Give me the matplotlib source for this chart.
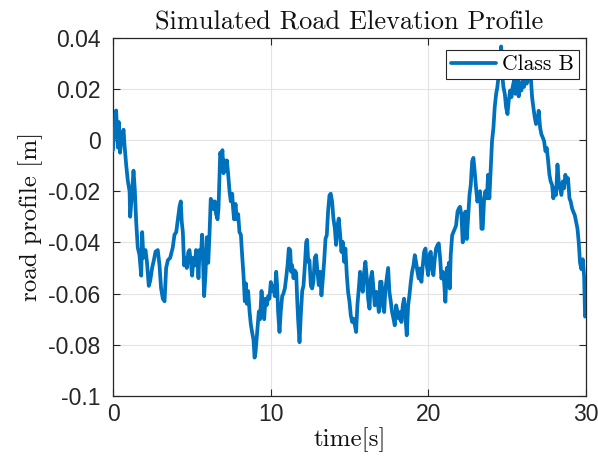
import matplotlib
matplotlib.use('Agg')
import matplotlib.pyplot as plt

# ---- data ----
time_s = [
    0.00, 0.05, 0.10, 0.16, 0.20, 0.25, 0.31, 0.37, 0.45, 0.52, 0.58, 0.67, 0.73, 0.84, 0.94,
    1.05, 1.09, 1.19, 1.30, 1.38, 1.47, 1.57, 1.68, 1.79, 1.85, 1.93, 2.06, 2.15, 2.27, 2.36,
    2.48, 2.59, 2.70, 2.84, 2.95, 3.05, 3.16, 3.27, 3.37, 3.48, 3.63, 3.79, 3.90, 4.01, 4.14,
    4.22, 4.30, 4.36, 4.43, 4.51, 4.60, 4.68, 4.77, 4.85, 4.94, 5.02, 5.10, 5.19, 5.27, 5.36,
    5.42, 5.49, 5.57, 5.65, 5.72, 5.78, 5.87, 5.95, 6.04, 6.12, 6.20, 6.29, 6.37, 6.46, 6.54,
    6.63, 6.69, 6.75, 6.80, 6.88, 6.94, 7.01, 7.07, 7.16, 7.22, 7.30, 7.39, 7.47, 7.56, 7.62,
    7.68, 7.77, 7.85, 7.94, 8.02, 8.11, 8.19, 8.28, 8.36, 8.42, 8.49, 8.57, 8.66, 8.74, 8.82,
    8.91, 8.98, 9.04, 9.16, 9.25, 9.33, 9.42, 9.50, 9.59, 9.67, 9.76, 9.84, 9.92, 10.01, 10.09,
    10.18, 10.26, 10.35, 10.41, 10.47, 10.56, 10.64, 10.73, 10.81, 10.90, 10.98, 11.07, 11.15, 11.24, 11.30,
    11.36, 11.45, 11.53, 11.62, 11.68, 11.74, 11.83, 11.91, 12.00, 12.08, 12.17, 12.25, 12.31, 12.38, 12.46,
    12.55, 12.63, 12.71, 12.80, 12.88, 12.97, 13.05, 13.14, 13.22, 13.31, 13.39, 13.48, 13.56, 13.64, 13.73,
    13.81, 13.90, 13.98, 14.07, 14.15, 14.24, 14.32, 14.41, 14.49, 14.57, 14.66, 14.74, 14.83, 14.91, 15.00,
    15.08, 15.17, 15.25, 15.34, 15.42, 15.50, 15.59, 15.67, 15.76, 15.84, 15.93, 16.01, 16.10, 16.18, 16.27,
    16.35, 16.43, 16.52, 16.60, 16.69, 16.77, 16.86, 16.94, 17.03, 17.11, 17.20, 17.28, 17.36, 17.45, 17.53,
    17.62, 17.70, 17.79, 17.87, 17.96, 18.04, 18.13, 18.21, 18.29, 18.38, 18.46, 18.55, 18.63, 18.72, 18.80,
    18.89, 18.97, 19.06, 19.14, 19.22, 19.31, 19.39, 19.48, 19.56, 19.65, 19.73, 19.82, 19.90, 19.99, 20.07,
    20.15, 20.24, 20.32, 20.41, 20.49, 20.58, 20.66, 20.75, 20.83, 20.92, 21.00, 21.08, 21.17, 21.25, 21.30,
    21.36, 21.42, 21.51, 21.59, 21.68, 21.76, 21.85, 21.93, 22.01, 22.10, 22.18, 22.27, 22.35, 22.44, 22.52,
    22.61, 22.69, 22.78, 22.86, 22.94, 23.03, 23.11, 23.20, 23.28, 23.37, 23.45, 23.54, 23.62, 23.71, 23.79,
    23.87, 23.96, 24.04, 24.13, 24.21, 24.30, 24.38, 24.47, 24.55, 24.62, 24.68, 24.76, 24.85, 24.93, 25.02,
    25.10, 25.19, 25.27, 25.35, 25.44, 25.52, 25.61, 25.69, 25.73, 25.82, 25.90, 25.99, 26.07, 26.16, 26.24,
    26.33, 26.41, 26.50, 26.58, 26.66, 26.75, 26.83, 26.92, 27.00, 27.09, 27.17, 27.26, 27.34, 27.43, 27.51,
    27.60, 27.68, 27.76, 27.85, 27.93, 28.02, 28.10, 28.19, 28.27, 28.36, 28.44, 28.53, 28.61, 28.69, 28.78,
    28.86, 28.95, 29.03, 29.12, 29.20, 29.29, 29.37, 29.46, 29.54, 29.62, 29.71, 29.79, 29.88, 29.94, 30.00,
]
profile_m = [
    -0.004, 0.004, 0.001, 0.010, 0.0115, 0.005, -0.003, 0.007, -0.005, 0.000, 0.002, 0.004, -0.002, -0.010, -0.016,
    -0.020, -0.030, -0.022, -0.012, -0.019, -0.032, -0.042, -0.045, -0.053, -0.036, -0.046, -0.043, -0.0475, -0.057, -0.055,
    -0.050, -0.047, -0.0436, -0.043, -0.049, -0.058, -0.062, -0.063, -0.050, -0.047, -0.046, -0.042, -0.037, -0.036, -0.030,
    -0.026, -0.024, -0.032, -0.036, -0.049, -0.046, -0.050, -0.044, -0.043, -0.048, -0.053, -0.046, -0.049, -0.043, -0.046,
    -0.054, -0.043, -0.046, -0.037, -0.049, -0.061, -0.052, -0.038, -0.048, -0.037, -0.023, -0.024, -0.027, -0.024, -0.029,
    -0.031, -0.027, -0.015, -0.005, -0.007, -0.004, -0.013, -0.008, -0.012, -0.008, -0.013, -0.020, -0.024, -0.021, -0.027,
    -0.031, -0.025, -0.031, -0.029, -0.036, -0.037, -0.045, -0.053, -0.063, -0.056, -0.064, -0.059, -0.067, -0.072, -0.075,
    -0.078, -0.085, -0.083, -0.074, -0.067, -0.070, -0.059, -0.065, -0.070, -0.062, -0.0645, -0.061, -0.062, -0.0555, -0.059,
    -0.057, -0.061, -0.0515, -0.057, -0.067, -0.075, -0.067, -0.061, -0.060, -0.058, -0.054, -0.049, -0.0424, -0.043, -0.0515,
    -0.049, -0.054, -0.051, -0.052, -0.062, -0.070, -0.079, -0.0685, -0.059, -0.057, -0.049, -0.040, -0.039, -0.0476, -0.047,
    -0.057, -0.058, -0.0554, -0.046, -0.045, -0.0515, -0.0567, -0.0515, -0.0607, -0.0541, -0.0476, -0.0385, -0.0372, -0.028, -0.0216,
    -0.021, -0.0242, -0.0307, -0.0346, -0.041, -0.0333, -0.0307, -0.0372, -0.0437, -0.0398, -0.0476, -0.0424, -0.0528, -0.0593, -0.0632,
    -0.0685, -0.0711, -0.0698, -0.0724, -0.075, -0.0646, -0.058, -0.0515, -0.0567, -0.0593, -0.0515, -0.0476, -0.0541, -0.062, -0.0659,
    -0.0541, -0.0515, -0.058, -0.0646, -0.0593, -0.062, -0.0672, -0.0554, -0.0554, -0.0646, -0.0672, -0.058, -0.0541, -0.050, -0.0593,
    -0.0632, -0.0672, -0.0698, -0.0724, -0.0646, -0.0672, -0.0698, -0.0672, -0.0711, -0.0646, -0.062, -0.0698, -0.0763, -0.0646, -0.0607,
    -0.0554, -0.0515, -0.0489, -0.045, -0.0476, -0.0515, -0.0541, -0.0502, -0.0554, -0.0489, -0.0437, -0.0424, -0.0489, -0.0528, -0.045,
    -0.0437, -0.0502, -0.0528, -0.0463, -0.0424, -0.0411, -0.0404, -0.0463, -0.0541, -0.0515, -0.0554, -0.0632, -0.050, -0.054, -0.048,
    -0.058, -0.045, -0.0373, -0.036, -0.0347, -0.0334, -0.0281, -0.0268, -0.0261, -0.0294, -0.040, -0.0347, -0.028, -0.0387, -0.0307,
    -0.0215, -0.0176, -0.0083, -0.007, -0.0123, -0.0189, -0.0241, -0.0215, -0.020, -0.0347, -0.0347, -0.0228, -0.020, -0.0228, -0.0136,
    -0.0228, -0.011, -0.0004, 0.0048, 0.0128, 0.018, 0.0207, 0.026, 0.0312, 0.0365, 0.026, 0.0207, 0.018, 0.0128, 0.0101,
    0.0154, 0.0193, 0.0167, 0.0207, 0.0233, 0.018, 0.022, 0.0246, 0.017, 0.022, 0.0193, 0.0246, 0.0207, 0.026, 0.022,
    0.0272, 0.0233, 0.0246, 0.0167, 0.0128, 0.0088, 0.0062, 0.0075, 0.0114, 0.0048, 0.0022, 0.0009, -0.0004, -0.0044, -0.0031,
    -0.0083, -0.0136, -0.0162, -0.0176, -0.0228, -0.0189, -0.0215, -0.0096, -0.0162, -0.0189, -0.0215, -0.0162, -0.0189, -0.0136, -0.0162,
    -0.0149, -0.0228, -0.0241, -0.0268, -0.0281, -0.0294, -0.032, -0.0347, -0.040, -0.0479, -0.0505, -0.0466, -0.0532, -0.069, -0.068,
]
series_label = 'Class B'
x_ticks = [0, 10, 20, 30]
x_tick_labels = ['0', '10', '20', '30']
y_ticks = [0.04, 0.02, 0.0, -0.02, -0.04, -0.06, -0.08, -0.1]
y_tick_labels = ['0.04', '0.02', '0', '-0.02', '-0.04', '-0.06', '-0.08', '-0.1']
title_text = 'Simulated Road Elevation Profile'
x_label = 'time[s]'
y_label = 'road profile [m]'

# ---- drawing ----
W, H = 598, 461
fig = plt.figure(figsize=(W / 100, H / 100), dpi=100)
left, right, top, bottom = 113, 586, 37.5, 396
ax = fig.add_axes([left / W, 1 - bottom / H, (right - left) / W, (bottom - top) / H])

line_color = '#0072BD'
ax.plot(time_s, profile_m, color=line_color, lw=2.7, label=series_label,
        solid_joinstyle='round', solid_capstyle='round', zorder=3)

ax.set_xlim(0, 30)
ax.set_ylim(-0.1, 0.04)
ax.set_xticks(x_ticks)
ax.set_xticklabels(x_tick_labels)
ax.set_yticks(y_ticks)
ax.set_yticklabels(y_tick_labels)

for lab in ax.get_xticklabels() + ax.get_yticklabels():
    lab.set_fontfamily('Liberation Sans')
    lab.set_fontsize(16.5)
    lab.set_color('#262626')

ax.tick_params(direction='in', length=5, width=0.8, colors='#262626',
               top=True, right=True)
ax.tick_params(axis='y', pad=9)
ax.tick_params(axis='x', pad=5)
ax.grid(True, color='#e3e3e3', lw=0.8, zorder=0)
ax.set_axisbelow(True)
for s in ax.spines.values():
    s.set_color('#262626')
    s.set_linewidth(0.9)

serif = 'cmr10'
ax.set_title(title_text, fontfamily=serif, fontsize=19, pad=6, color='#111111')
ax.set_xlabel(x_label, fontfamily=serif, fontsize=18, labelpad=1, color='#111111')
ax.set_ylabel(y_label, fontfamily=serif, fontsize=18, labelpad=4, color='#111111')

leg = ax.legend(loc='upper right', bbox_to_anchor=((579 - left) / (right - left), (bottom - 50) / (bottom - top)),
                borderaxespad=0, fancybox=False, framealpha=1, edgecolor='#262626',
                prop={'family': serif, 'size': 15.5}, handlelength=2.1, handletextpad=0.3,
                borderpad=0.22)
leg.get_frame().set_linewidth(0.8)

fig.savefig('out.png', dpi=100)
